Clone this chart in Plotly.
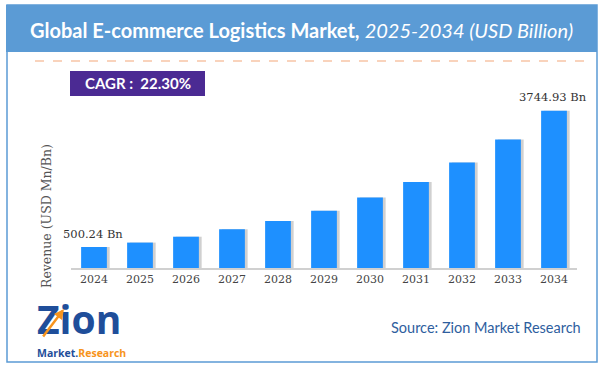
import plotly.graph_objects as go

years = ["2024", "2025", "2026", "2027", "2028", "2029", "2030", "2031", "2032", "2033", "2034"]
revenue = [500.24, 605, 745, 920, 1120, 1365, 1680, 2050, 2510, 3060, 3744.93]
first_label = "500.24 Bn"
last_label = "3744.93 Bn"
cagr_text = "CAGR :  22.30%"
y_title = "Revenue (USD Mn/Bn)"

W, H = 604, 369
L, R, T, B = 71, 27, 100, 101
PW, PH = W - L - R, H - T - B


def px(x):
    return (x - L) / PW


def py(y):
    return (H - B - y) / PH


fig = go.Figure()
# shadow
fig.add_trace(go.Bar(x=years, y=revenue, width=0.56, offset=-0.22,
                     marker=dict(color="rgba(120,120,120,0.35)", line=dict(width=0)),
                     hoverinfo="skip", showlegend=False))
fig.add_trace(go.Bar(x=years, y=revenue, width=0.56, offset=-0.28,
                     marker=dict(color="#1E90FF", line=dict(width=0)),
                     showlegend=False))

serif = "DejaVu Serif"
fig.update_layout(
    width=W, height=H,
    margin=dict(l=L, r=R, t=T, b=B, autoexpand=False),
    paper_bgcolor="white", plot_bgcolor="white",
    barmode="overlay",
    xaxis=dict(type="category", showgrid=False, showline=True, linecolor="#d0d0d0", linewidth=1.5,
               ticks="", tickfont=dict(family=serif, size=11, color="#444444"),
               range=[-0.5, 10.5]),
    yaxis=dict(range=[0, 4000], showgrid=False, showticklabels=False, zeroline=False,
               showline=False),
)

shapes = []
shapes.append(dict(type="rect", xref="paper", yref="paper", x0=px(7), x1=px(597), y0=py(362), y1=py(5),
                   line=dict(color="#5B9BD5", width=1.5), fillcolor="rgba(0,0,0,0)", layer="below"))
shapes.append(dict(type="rect", xref="paper", yref="paper", x0=px(6), x1=px(597), y0=py(52), y1=py(5),
                   line=dict(width=0), fillcolor="#5B9BD5", layer="below"))
shapes.append(dict(type="line", xref="paper", yref="paper", x0=px(35), x1=px(592), y0=py(61), y1=py(61),
                   line=dict(color="#F4A77A", width=1.2, dash="dash")))
shapes.append(dict(type="rect", xref="paper", yref="paper", x0=px(70), x1=px(205), y0=py(96), y1=py(71),
                   line=dict(width=0), fillcolor="#4B2A93"))
fig.update_layout(shapes=shapes)

ann = []
ann.append(dict(xref="paper", yref="paper", x=px(301), y=py(30), xanchor="center", yanchor="middle",
                showarrow=False,
                text="<b>Global E-commerce Logistics Market,</b> <i>2025-2034 (USD Billion)</i>",
                font=dict(family="Lato", size=20, color="white")))
ann.append(dict(xref="paper", yref="paper", x=px(137.5), y=py(83.5), xanchor="center", yanchor="middle",
                showarrow=False, text="<b>" + cagr_text + "</b>",
                font=dict(family="Lato", size=15, color="white")))
ann.append(dict(x=0, y=revenue[0], xref="x", yref="y", yanchor="bottom", yshift=4, xshift=-1,
                showarrow=False, text=first_label, font=dict(family=serif, size=11.5, color="#333333")))
ann.append(dict(x=len(years) - 1, y=revenue[-1], xref="x", yref="y", yanchor="bottom", yshift=5, xshift=-1,
                showarrow=False, text=last_label, font=dict(family=serif, size=11.5, color="#333333")))
ann.append(dict(xref="paper", yref="paper", x=px(46), y=py(216), xanchor="center", yanchor="middle",
                showarrow=False, textangle=-90, text=y_title,
                font=dict(family=serif, size=12.5, color="#555555")))
ann.append(dict(xref="paper", yref="paper", x=px(583), y=py(327), xanchor="right", yanchor="middle",
                showarrow=False, text="Source: Zion Market Research",
                font=dict(family="Lato", size=14.5, color="#2E5E9E")))
ann.append(dict(xref="paper", yref="paper", x=px(35), y=py(347), xanchor="left", yanchor="bottom",
                showarrow=False, text="<b>Zion</b>",
                font=dict(family="Open Sans", size=39, color="#1F4E9A")))
ann.append(dict(xref="paper", yref="paper", x=px(35), y=py(344), xanchor="left", yanchor="top",
                showarrow=False,
                text="<b><span style='color:#1F4E9A'>Market.</span><span style='color:#F7941D'>Research</span></b>",
                font=dict(family="Open Sans", size=10.5)))
# orange arrow through the Z of the logo
ann.append(dict(xref="paper", yref="paper", x=px(64), y=py(309), ax=-22, ay=29,
                axref="pixel", ayref="pixel", showarrow=True, arrowhead=2, arrowsize=0.8,
                arrowwidth=2.5, arrowcolor="#F7941D", text=""))
fig.update_layout(annotations=ann)

fig.write_html("out.html", config={"displayModeBar": False},
               post_script="document.body.style.margin='0';document.body.style.padding='0';")
